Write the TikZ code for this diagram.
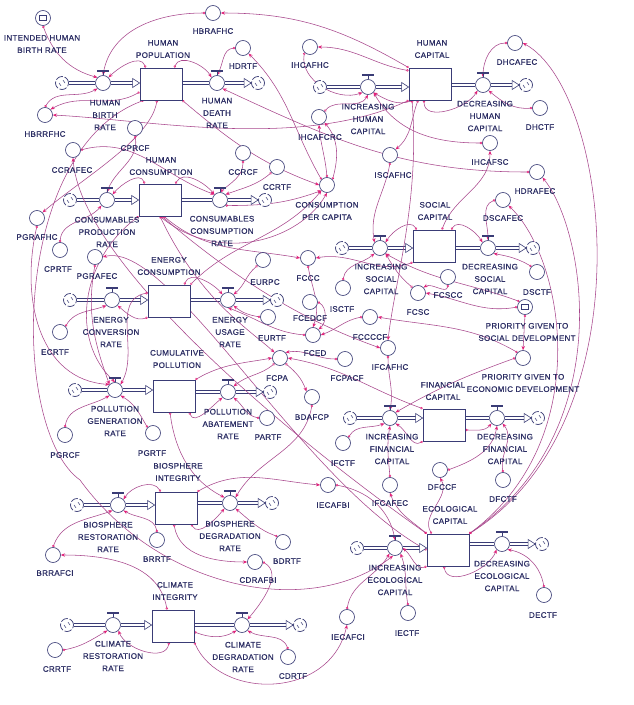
\documentclass[tikz,border=0pt]{standalone}
\usepackage{fontspec}
\setmainfont{Liberation Sans}[LetterSpace=4,FakeBold=0.6]
\usetikzlibrary{arrows.meta,calc}
\definecolor{navy}{RGB}{58,60,118}
\definecolor{txtcol}{RGB}{44,46,100}
\definecolor{conncol}{RGB}{168,70,140}
\definecolor{tipcol}{RGB}{226,34,122}
\pgfdeclarelayer{bg}\pgfdeclarelayer{conn}
\pgfsetlayers{bg,conn,main}
\newcommand\Aux[4]{\node[aux] (#1) at (#2) {}; \node[lbl] (#1-t) at (#3) {#4};}
\newcommand\Stock[4]{\node[stock] (#1) at (#2) {}; \node[lbl] (#1-t) at (#3) {#4};}
\newcommand\Valve[4]{\node[valve] (#1) at (#2) {};
  \draw[navy,line width=0.6pt] (#1.north) -- ++(0,3.5pt);
  \draw[navy,line width=1.5pt] ([yshift=4pt]#1.north) ++(-6pt,0) -- ++(12pt,0);
  \node[lbl] (#1-t) at (#3) {#4};}
\newcommand\Cloud[2]{\node[cloudn] (#1) at (#2) {};
  \draw[navy,line width=0.5pt] (#1.center) ++(-3pt,0) arc[start angle=180,end angle=250,radius=3pt]
        (#1.center) ++(3pt,0) arc[start angle=0,end angle=70,radius=3pt];}
\newcommand\Inflow[3]{%
  \begin{pgfonlayer}{bg}
  \draw[pipe] (#1) -- (#2);
  \draw[pipe] (#2) -- ($(#2 -| #3.west)+(-6pt,0)$);
  \end{pgfonlayer}
  \draw[pipetip] ($(#2 -| #3.west)+(-7pt,4.5pt)$) -- (#2 -| #3.west) -- ($(#2 -| #3.west)+(-7pt,-4.5pt)$) -- cycle;}
\newcommand\Outflow[3]{%
  \begin{pgfonlayer}{bg}
  \draw[pipe] (#2 -| #1.east) -- (#2);
  \draw[pipe] (#2) -- ($(#3.west)+(-6pt,0)$);
  \end{pgfonlayer}
  \draw[pipetip] ($(#3.west)+(-7pt,4.5pt)$) -- (#3.west) -- ($(#3.west)+(-7pt,-4.5pt)$) -- cycle;}
\begin{document}
\begin{tikzpicture}[x=1pt,y=-1pt,
  lbl/.style={text=txtcol,font=\fontsize{8}{12.3}\selectfont,align=center,inner sep=0pt},
  aux/.style={circle,draw=navy,fill=white,line width=0.65pt,minimum size=15pt,inner sep=0pt},
  valve/.style={circle,draw=navy,fill=white,line width=0.65pt,minimum size=15pt,inner sep=0pt},
  stock/.style={rectangle,draw=navy,fill=white,line width=0.8pt,minimum width=42pt,minimum height=32pt,inner sep=0pt},
  cloudn/.style={circle,draw=navy,fill=white,line width=0.7pt,minimum size=13pt,inner sep=0pt,dash pattern=on 7.5pt off 1.8pt},
  pipe/.style={draw=navy,line width=0.6pt,double=white,double distance=2.2pt},
  pipetip/.style={draw=navy,fill=white,line width=0.6pt},
  icon/.style={rectangle,draw=navy,line width=0.6pt,minimum width=7pt,minimum height=5pt,inner sep=0pt},
  conn/.style={draw=conncol,line width=0.55pt,{Circle[open,length=2.4pt,width=2.4pt,color=tipcol]}-{Stealth[length=4.2pt,width=3.4pt,color=tipcol]}}
]
\useasboundingbox (0,0) rectangle (633,705);
\begin{pgfonlayer}{bg}\fill[white] (0,0) rectangle (633,705);\end{pgfonlayer}

% ---------- stocks
\Stock{hpop}{161,84}{163,49}{HUMAN\\POPULATION}
\Stock{hcap}{430,84}{432,49}{HUMAN\\CAPITAL}
\Stock{hcons}{160,200}{161,166}{HUMAN\\CONSUMPTION}
\Stock{econ}{169,301}{169,266}{ENERGY\\CONSUMPTION}
\Stock{cpol}{174,396}{177,359}{CUMULATIVE\\POLLUTION}
\Stock{scap}{434,246}{435,211}{SOCIAL\\CAPITAL}
\Stock{fcap}{444,425}{443,391}{FINANCIAL\\CAPITAL}
\Stock{bint}{176,508}{178,472}{BIOSPHERE\\INTEGRITY}
\Stock{ecap}{448,550}{450,515}{ECOLOGICAL\\CAPITAL}
\Stock{cint}{173,626}{175,591}{CLIMATE\\INTEGRITY}

% ---------- valves
\Valve{hbr}{103,83}{105,115}{HUMAN\\BIRTH\\RATE}
\Valve{hdr}{217,83}{217,113}{HUMAN\\DEATH\\RATE}
\Valve{ihc}{368,87}{368,119}{INCREASING\\HUMAN\\CAPITAL}
\Valve{dhc}{483,85}{485,116}{DECREASING\\HUMAN\\CAPITAL}
\Valve{cpr}{107,200}{107,232}{CONSUMABLES\\PRODUCTION\\RATE}
\Valve{ccr}{220,200}{222,231}{CONSUMABLES\\CONSUMPTION\\RATE}
\Valve{ecr}{112,300}{111,332}{ENERGY\\CONVERSION\\RATE}
\Valve{eur}{228,300}{230,332}{ENERGY\\USAGE\\RATE}
\Valve{pgr}{115,390}{115,421}{POLLUTION\\GENERATION\\RATE}
\Valve{par}{228,392}{228,424}{POLLUTION\\ABATEMENT\\RATE}
\Valve{isc}{380,248}{381,279}{INCREASING\\SOCIAL\\CAPITAL}
\Valve{dsc}{488,248}{490,279}{DECREASING\\SOCIAL\\CAPITAL}
\Valve{ifc}{390,418}{392,449}{INCREASING\\FINANCIAL\\CAPITAL}
\Valve{dfc}{497,418}{505,449}{DECREASING\\FINANCIAL\\CAPITAL}
\Valve{brr}{118,505}{108,537}{BIOSPHERE\\RESTORATION\\RATE}
\Valve{bdr}{230,503}{230,536}{BIOSPHERE\\DEGRADATION\\RATE}
\Valve{iec}{395,548}{395,580}{INCREASING\\ECOLOGICAL\\CAPITAL}
\Valve{dec}{502,544}{502,576}{DECREASING\\ECOLOGICAL\\CAPITAL}
\Valve{crr}{113,625}{113,656}{CLIMATE\\RESTORATION\\RATE}
\Valve{cdr}{242,625}{243,657}{CLIMATE\\DEGRADATION\\RATE}

% ---------- clouds
\Cloud{k1}{62,83}\Cloud{k2}{258,83}\Cloud{k3}{320,87}\Cloud{k4}{526,85}
\Cloud{k5}{70,200}\Cloud{k6}{265,200}\Cloud{k7}{70,300}\Cloud{k8}{277,300}
\Cloud{k9}{75,390}\Cloud{k10}{270,392}\Cloud{k11}{342,248}\Cloud{k12}{533,248}
\Cloud{k13}{350,418}\Cloud{k14}{538,418}\Cloud{k15}{77,505}\Cloud{k16}{272,503}
\Cloud{k17}{357,548}\Cloud{k18}{542,544}\Cloud{k19}{67,625}\Cloud{k20}{300,625}

% ---------- flows
\Inflow{k1}{hbr}{hpop}\Outflow{hpop}{hdr}{k2}
\Inflow{k3}{ihc}{hcap}\Outflow{hcap}{dhc}{k4}
\Inflow{k5}{cpr}{hcons}\Outflow{hcons}{ccr}{k6}
\Inflow{k7}{ecr}{econ}\Outflow{econ}{eur}{k8}
\Inflow{k9}{pgr}{cpol}\Outflow{cpol}{par}{k10}
\Inflow{k11}{isc}{scap}\Outflow{scap}{dsc}{k12}
\Inflow{k13}{ifc}{fcap}\Outflow{fcap}{dfc}{k14}
\Inflow{k15}{brr}{bint}\Outflow{bint}{bdr}{k16}
\Inflow{k17}{iec}{ecap}\Outflow{ecap}{dec}{k18}
\Inflow{k19}{crr}{cint}\Outflow{cint}{cdr}{k20}

% ---------- auxiliaries
\Aux{ihbr}{43,18}{42,44}{INTENDED HUMAN\\BIRTH RATE}
\node[icon] (ihbr-i) at (ihbr) {};
\Aux{hbrafhc}{213,13}{213,31}{HBRAFHC}
\Aux{hbrrfhc}{45,115}{45,134}{HBRRFHC}
\Aux{hdrtf}{243,48}{243,66}{HDRTF}
\Aux{ihcafhc}{310,47}{310,65}{IHCAFHC}
\Aux{dhcafec}{515,43}{517,62}{DHCAFEC}
\Aux{dhctf}{540,108}{540,127}{DHCTF}
\Aux{ihcafcrc}{319,117}{320,137}{IHCAFCRC}
\Aux{ihcafsc}{490,143}{490,162}{IHCAFSC}
\Aux{iscafhc}{390,155}{393,175}{ISCAFHC}
\Aux{hdrafec}{537,172}{535,191}{HDRAFEC}
\Aux{cprcf}{135,128}{135,148}{CPRCF}
\Aux{ccrafec}{73,150}{72,170}{CCRAFEC}
\Aux{pgrafhc}{37,218}{37,237}{PGRAFHC}
\Aux{ccrcf}{243,153}{243,172}{CCRCF}
\Aux{ccrtf}{277,167}{277,187}{CCRTF}
\Aux{cpc}{327,185}{327,211}{CONSUMPTION\\PER CAPITA}
\Aux{cprtf}{60,250}{58,269}{CPRTF}
\Aux{pgrafec}{95,257}{97,276}{PGRAFEC}
\Aux{ecrtf}{60,332}{55,352}{ECRTF}
\Aux{eurpc}{263,260}{265,282}{EURPC}
\Aux{eurtf}{268,317}{272,338}{EURTF}
\Aux{fccc}{308,258}{308,278}{FCCC}
\Aux{fcedcf}{310,302}{310,318}{FCEDCF}
\Aux{fced}{313,335}{315,353}{FCED}
\Aux{isctf}{343,288}{342,309}{ISCTF}
\Aux{fcccccf}{370,317}{370,337}{FCCCCF}
\Aux{ifcafhc}{388,348}{390,367}{IFCAFHC}
\Aux{fcpa}{280,358}{277,378}{FCPA}
\Aux{fcpacf}{345,359}{347,378}{FCPACF}
\Aux{bdafcp}{312,397}{312,417}{BDAFCP}
\Aux{fcscc}{448,277}{448,295}{FCSCC}
\Aux{fcsc}{418,293}{418,312}{FCSC}
\Aux{dscafec}{503,200}{503,218}{DSCAFEC}
\Aux{dsctf}{537,272}{537,292}{DSCTF}
\Aux{pgsd}{525,307}{527,332}{PRIORITY GIVEN TO\\SOCIAL DEVELOPMENT}
\node[icon] (pgsd-i) at (pgsd) {};
\Aux{pged}{523,358}{523,383}{PRIORITY GIVEN TO\\ECONOMIC DEVELOPMENT}
\Aux{ifctf}{343,443}{343,463}{IFCTF}
\Aux{dfccf}{440,470}{442,487}{DFCCF}
\Aux{dfctf}{503,480}{503,499}{DFCTF}
\Aux{ifcafec}{390,485}{390,503}{IFCAFEC}
\Aux{iecafbi}{328,485}{333,505}{IECAFBI}
\Aux{iectf}{408,613}{407,633}{IECTF}
\Aux{iecafci}{347,617}{348,637}{IECAFCI}
\Aux{dectf}{544,595}{543,615}{DECTF}
\Aux{pgrcf}{65,435}{65,455}{PGRCF}
\Aux{pgrtf}{153,433}{152,453}{PGRTF}
\Aux{partf}{267,418}{268,437}{PARTF}
\Aux{brrtf}{157,540}{157,559}{BRRTF}
\Aux{brrafci}{53,555}{55,573}{BRRAFCI}
\Aux{bdrtf}{283,542}{287,561}{BDRTF}
\Aux{cdrafbi}{255,562}{258,580}{CDRAFBI}
\Aux{crrtf}{55,650}{57,669}{CRRTF}
\Aux{cdrtf}{288,657}{293,676}{CDRTF}

% ---------- connectors
\begin{pgfonlayer}{conn}
\draw[conn] (ihbr.south) to[out=-70,in=165] (hbr.north west);
\draw[conn] (hbrafhc.west) to[out=180,in=80] (hbr.north);
\draw[conn] ([xshift=6pt]hpop.north west) to[out=110,in=45] (hbr.north east);
\draw[conn] ([xshift=-8pt]hpop.north east) to[out=70,in=120] (hdr.north west);
\draw[conn] (hdrtf.west) to[out=185,in=60] (hdr.north);
\draw[conn] ([yshift=-8pt]hpop.west) to[out=210,in=30] (hbrrfhc.north east);
\draw[conn] (hbrrfhc.north) to[out=60,in=-150] (hbr.south west);
\draw[conn] (hcap.south west) .. controls (300,150) and (150,120) .. (hbrrfhc.east);
\draw[conn] (hcap.north west) to[out=150,in=0] (hbrafhc.east);
\draw[conn] ([yshift=-3pt]hcap.north west) to[out=170,in=0] (ihcafhc.east);
\draw[conn] (ihcafhc.south west) to[out=-100,in=200] (ihc.south west);
\draw[conn] (ihcafcrc.north east) to[out=50,in=240] (ihc.south);
\draw[conn] (cpc.north) to[out=95,in=-85] (ihcafcrc.south);
\draw[conn] (cpc.north east) to[out=75,in=-50] (ihcafcrc.south east);
\draw[conn] (cpc.north west) to[out=120,in=-45] (hdrtf.south east);
\draw[conn] ([xshift=4pt]hcap.south west) to[out=200,in=-30] (ihc.south east);
\draw[conn] (dhcafec.west) to[out=180,in=90] (dhc.north);
\draw[conn] (dhctf.west) to[out=185,in=-40] (dhc.south east);
\draw[conn] ([xshift=-6pt]hcap.south) to[out=-90,in=-120] (dhc.south west);
\draw[conn] ([xshift=-12pt]hcap.south) to[out=-110,in=40] (iscafhc.north east);
\draw[conn] ([xshift=8pt]scap.north) to[out=70,in=-90] (ihcafsc.south);
\draw[conn] (ihcafsc.west) to[out=180,in=-60] (ihc.south east);
\draw[conn] (hdrafec.west) to[out=180,in=-25] (hdr.south east);
\draw[conn] (iscafhc.south) to[out=-100,in=100] (isc.north west);
\draw[conn] (ecap.north east) .. controls (650,420) and (610,90) .. (dhcafec.east);
\draw[conn] (ecap.north east) .. controls (620,430) and (585,230) .. (hdrafec.south east);
\draw[conn] (ecap.north east) .. controls (595,440) and (565,260) .. (dscafec.south east);
\draw[conn] ([xshift=4pt]scap.north west) to[out=120,in=60] (isc.north east);
\draw[conn] ([xshift=-4pt]scap.north east) to[out=60,in=120] (dsc.north west);
\draw[conn] (dscafec.west) to[out=200,in=90] (dsc.north);
\draw[conn] (dsctf.north west) to[out=150,in=-10] (dsc.south east);
\draw[conn] (isctf.north) to[out=80,in=220] (isc.south west);
\draw[conn] (pgsd.west) to[out=190,in=-10] (fcsc.east);
\draw[conn] (fcscc.south) to[out=-100,in=30] (fcsc.north east);
\draw[conn] (fcsc.north west) to[out=140,in=-60] (isc.south east);
\draw[conn] (scap.south west) to[out=200,in=10] (fccc.east);
\draw[conn] (fccc.south) to[out=-80,in=70] (fced.north);
\draw[conn] (fcedcf.east) to[out=-30,in=40] (fced.north east);
\draw[conn] (fced.west) to[out=175,in=-20] (eur.south);
\draw[conn] (eurpc.south west) to[out=220,in=40] (eur.north east);
\draw[conn] (eurtf.west) to[out=170,in=-40] (eur.south east);
\draw[conn] ([xshift=-6pt]econ.north east) to[out=70,in=130] (eur.north west);
\draw[conn] (econ.south west) to[out=200,in=-40] (ecr.south east);
\draw[conn] (ecrtf.north east) to[out=60,in=200] (ecr.south west);
\draw[conn] (pgrafec.south) to[out=-100,in=110] (pgr.north west);
\draw[conn] (ecap.west) .. controls (300,480) and (170,240) .. (pgrafec.east);
\draw[conn] (pgrcf.north) to[out=80,in=210] (pgr.south west);
\draw[conn] (pgrtf.north west) to[out=120,in=-30] (pgr.south east);
\draw[conn] (pgrafhc.south) .. controls (20,300) and (40,380) .. (pgr.north west);
\draw[conn] ([xshift=-4pt]hpop.south) .. controls (150,140) and (80,180) .. (pgrafhc.north east);
\draw[conn] (cprtf.north) to[out=85,in=-130] (cpr.south west);
\draw[conn] (cprcf.south) to[out=-80,in=70] (cpr.north);
\draw[conn] (ccrafec.east) to[out=15,in=160] (ccr.north west);
\draw[conn] (ecap.north west) .. controls (280,430) and (80,260) .. (ccrafec.south);
\draw[conn] (ccrcf.south) to[out=-90,in=40] (ccr.north);
\draw[conn] (ccrtf.south west) to[out=220,in=20] (ccr.north east);
\draw[conn] ([xshift=6pt]hcons.north west) to[out=110,in=50] (cpr.north east);
\draw[conn] ([xshift=-6pt]hcons.north east) to[out=60,in=130] (ccr.north west);
\draw[conn] (hcons.south) .. controls (220,265) and (300,240) .. (cpc.south);
\draw[conn] (hpop.south east) to[out=-40,in=160] (cpc.west);
\draw[conn] (ccr.south east) to[out=0,in=200] (cpc.south west);
\draw[conn] (econ.north east) to[out=45,in=230] (cpc.south west);
\draw[conn] ([xshift=4pt]hcons.south) to[out=-40,in=170] (fccc.west);
\draw[conn] (fcccccf.west) to[out=190,in=20] (fced.east);
\draw[conn] (pged.north west) to[out=150,in=-10] (fcccccf.east);
\draw[conn] ([xshift=-18pt]hcap.south) .. controls (420,200) and (395,280) .. (ifcafhc.north);
\draw[conn] (ifcafhc.south) to[out=-90,in=80] (ifc.north);
\draw[conn] (cpol.north east) to[out=30,in=190] (fcpa.west);
\draw[conn] (fcpa.south west) to[out=220,in=40] (par.north east);
\draw[conn] (fcpa.south east) to[out=-40,in=110] (bdafcp.north west);
\draw[conn] (partf.west) to[out=170,in=-40] (par.south east);
\draw[conn] (fcpacf.west) to[out=180,in=10] (fcpa.north east);
\draw[conn] (fcap.north west) to[out=160,in=-10] (fcpa.east);
\draw[conn] (bdafcp.south) to[out=-100,in=60] (bdr.north east);
\draw[conn] ([xshift=-6pt]cpol.south east) to[out=-70,in=-140] (par.south west);
\draw[conn] ([xshift=-4pt]cpol.south) .. controls (175,450) and (190,480) .. (bdr.north west);
\draw[conn] (ifctf.north east) to[out=60,in=200] (ifc.south west);
\draw[conn] (ifcafec.north) to[out=95,in=-100] (ifc.south);
\draw[conn] (fcap.south west) to[out=210,in=-30] (ifc.south east);
\draw[conn] (pged.west) to[out=200,in=30] (ifc.north east);
\draw[conn] ([yshift=-5pt]fcap.east) to[out=0,in=-130] (dfc.south west);
\draw[conn] (dfccf.east) to[out=20,in=-100] (dfc.south);
\draw[conn] (dfctf.north) to[out=100,in=-50] (dfc.south east);
\draw[conn] ([xshift=5pt]ecap.north west) to[out=120,in=-60] (dfccf.south);
\draw[conn] (ecap.north west) to[out=140,in=-70] (ifcafec.south);
\draw[conn] (pgsd.south) -- (pged.north);
\draw[conn] (pgsd.north west) to[out=160,in=-30] (isc.south east);
\draw[conn] (iecafbi.east) to[out=-10,in=100] (iec.north);
\draw[conn] (bint.north east) to[out=30,in=175] (iecafbi.west);
\draw[conn] (iectf.north) to[out=100,in=-70] (iec.south east);
\draw[conn] (iecafci.north) to[out=80,in=-120] (iec.south west);
\draw[conn] (cint.south east) .. controls (220,700) and (330,700) .. (iecafci.south);
\draw[conn] ([xshift=4pt]hpop.south west) .. controls (10,150) and (10,430) .. (80,480) .. controls (160,590) and (310,620) .. ([xshift=-2pt]iec.south);
\draw[conn] (ecap.south west) to[out=200,in=-40] (iec.east);
\draw[conn] ([xshift=-4pt]ecap.south) to[out=-80,in=-110] (dec.south west);
\draw[conn] (dectf.north) to[out=100,in=-10] (dec.south east);
\draw[conn] ([xshift=6pt]bint.north west) to[out=120,in=60] (brr.north east);
\draw[conn] (brrtf.north) to[out=100,in=-30] (brr.south east);
\draw[conn] (brrafci.north) to[out=70,in=200] (brr.south west);
\draw[conn] ([xshift=-6pt]cint.north) to[out=100,in=0] (brrafci.east);
\draw[conn] ([xshift=-6pt]bint.south east) to[out=-60,in=-130] (bdr.south west);
\draw[conn] (bdrtf.north west) to[out=160,in=-40] (bdr.south east);
\draw[conn] ([xshift=-2pt]bint.south) to[out=-80,in=180] (cdrafbi.west);
\draw[conn] (cdrafbi.east) to[out=-30,in=50] (cdr.north east);
\draw[conn] ([xshift=-4pt]cint.south) to[out=-100,in=-70] (crr.south east);
\draw[conn] (crrtf.east) to[out=10,in=210] (crr.south west);
\draw[conn] ([yshift=-6pt]cint.east) to[out=-20,in=-150] (cdr.south west);
\draw[conn] (cdrtf.north) to[out=110,in=-30] (cdr.south east);
\draw[conn] (hcons.south west) .. controls (80,260) and (70,340) .. (pgr.north);
\draw[conn] ([yshift=8pt]econ.west) to[out=190,in=60] (pgr.north east);
\draw[conn] (hcons.south) .. controls (200,300) and (250,330) .. (fcpa.north west);
\draw[conn] ([xshift=2pt]hcons.south) .. controls (260,300) and (330,330) .. (ifcafhc.west);
\end{pgfonlayer}
\end{tikzpicture}
\end{document}
